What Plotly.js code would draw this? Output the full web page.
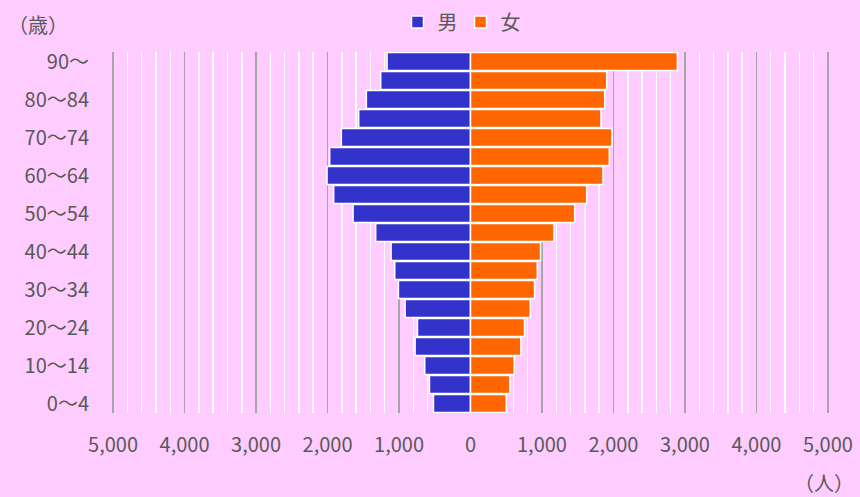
<!DOCTYPE html>
<html>
<head>
<meta charset="utf-8">
<script src="https://cdn.plot.ly/plotly-3.0.1.min.js"></script>
<style>
  html, body { margin: 0; padding: 0; background: #FFCCFF; }
  #chart { width: 860px; height: 497px; }
</style>
</head>
<body>
<div id="chart"></div>
<script>
// 年齢階級（下から上へ）
const ageGroups = ['0〜4', '5〜9', '10〜14', '15〜19', '20〜24', '25〜29', '30〜34', '35〜39',
    '40〜44', '45〜49', '50〜54', '55〜59', '60〜64', '65〜69', '70〜74', '75〜79',
    '80〜84', '85〜89', '90〜'];

// 表示する目盛りラベル（1つおき）
const ageTicks = ['0〜4', '10〜14', '20〜24', '30〜34', '40〜44', '50〜54', '60〜64', '70〜74', '80〜84', '90〜'];

// 人数
const male   = [518, 574, 640, 775, 742, 915, 1008, 1060, 1111, 1326, 1643, 1914, 2007, 1970, 1807, 1564, 1457, 1256, 1167];
const female = [500, 551, 612, 705, 756, 836, 896, 934, 980, 1167, 1457, 1625, 1853, 1942, 1979, 1825, 1877, 1905, 2894];

const xTicks = [-5000, -4000, -3000, -2000, -1000, 0, 1000, 2000, 3000, 4000, 5000];

const font = 'Noto Sans CJK JP, Noto Sans, sans-serif';
const textColor = '#595959';

let traceMale = {
    y: ageGroups,
    x: male.map(v => -v),
    type: 'bar',
    orientation: 'h',
    name: '男',
    marker: { color: '#3333CC', line: { color: '#FFFFFF', width: 1.5 } },
    hoverinfo: 'skip'
};

let traceFemale = {
    y: ageGroups,
    x: female,
    type: 'bar',
    orientation: 'h',
    name: '女',
    marker: { color: '#FF6600', line: { color: '#FFFFFF', width: 1.5 } },
    hoverinfo: 'skip'
};

let layout = {
    width: 860,
    height: 497,
    paper_bgcolor: '#FFCCFF',
    plot_bgcolor: '#FFCCFF',
    font: { family: font, color: textColor, size: 20 },
    barmode: 'overlay',
    bargap: 0.06,

    margin: { l: 112, r: 31, t: 52, b: 84 },

    xaxis: {
        range: [-5015, 5015],
        tickvals: xTicks,
        ticktext: xTicks.map(v => Math.abs(v).toLocaleString('en-US')),
        tickfont: { size: 20, color: textColor },
        ticklabelstandoff: 18,
        showgrid: true,
        gridcolor: '#A6A6A6',
        gridwidth: 1.5,
        minor: { dtick: 200, showgrid: true, gridcolor: '#FFFFFF', gridwidth: 1.5 },
        zeroline: true,
        zerolinecolor: '#D0D0D0',
        zerolinewidth: 2.5,
        showline: false,
        fixedrange: true
    },

    yaxis: {
        type: 'category',
        categoryorder: 'array',
        categoryarray: ageGroups,
        tickvals: ageTicks,
        ticktext: ageTicks,
        tickfont: { size: 20, color: textColor },
        ticklabelstandoff: 22,
        showgrid: false,
        zeroline: false,
        showline: false,
        fixedrange: true
    },

    legend: {
        orientation: 'h',
        x: 0.5 - 10 / 717,
        xanchor: 'center',
        yref: 'container',
        y: 1 - 22 / 497,
        yanchor: 'middle',
        font: { size: 20, color: textColor },
        bgcolor: 'rgba(0,0,0,0)',
        entrywidth: 18,
        entrywidthmode: 'pixels',
        traceorder: 'normal'
    },

    annotations: [
        {
            text: '（歳）',
            xref: 'paper', yref: 'paper',
            x: (38 - 112) / 717, y: (413 - 24) / 361,
            xanchor: 'center', yanchor: 'middle',
            showarrow: false,
            font: { size: 20, color: textColor }
        },
        {
            text: '（人）',
            xref: 'paper', yref: 'paper',
            x: (824 - 112) / 717, y: (413 - 482) / 361,
            xanchor: 'center', yanchor: 'middle',
            showarrow: false,
            font: { size: 20, color: textColor }
        }
    ]
};

Plotly.newPlot('chart', [traceMale, traceFemale], layout, { displayModeBar: false, staticPlot: true });
</script>
</body>
</html>
